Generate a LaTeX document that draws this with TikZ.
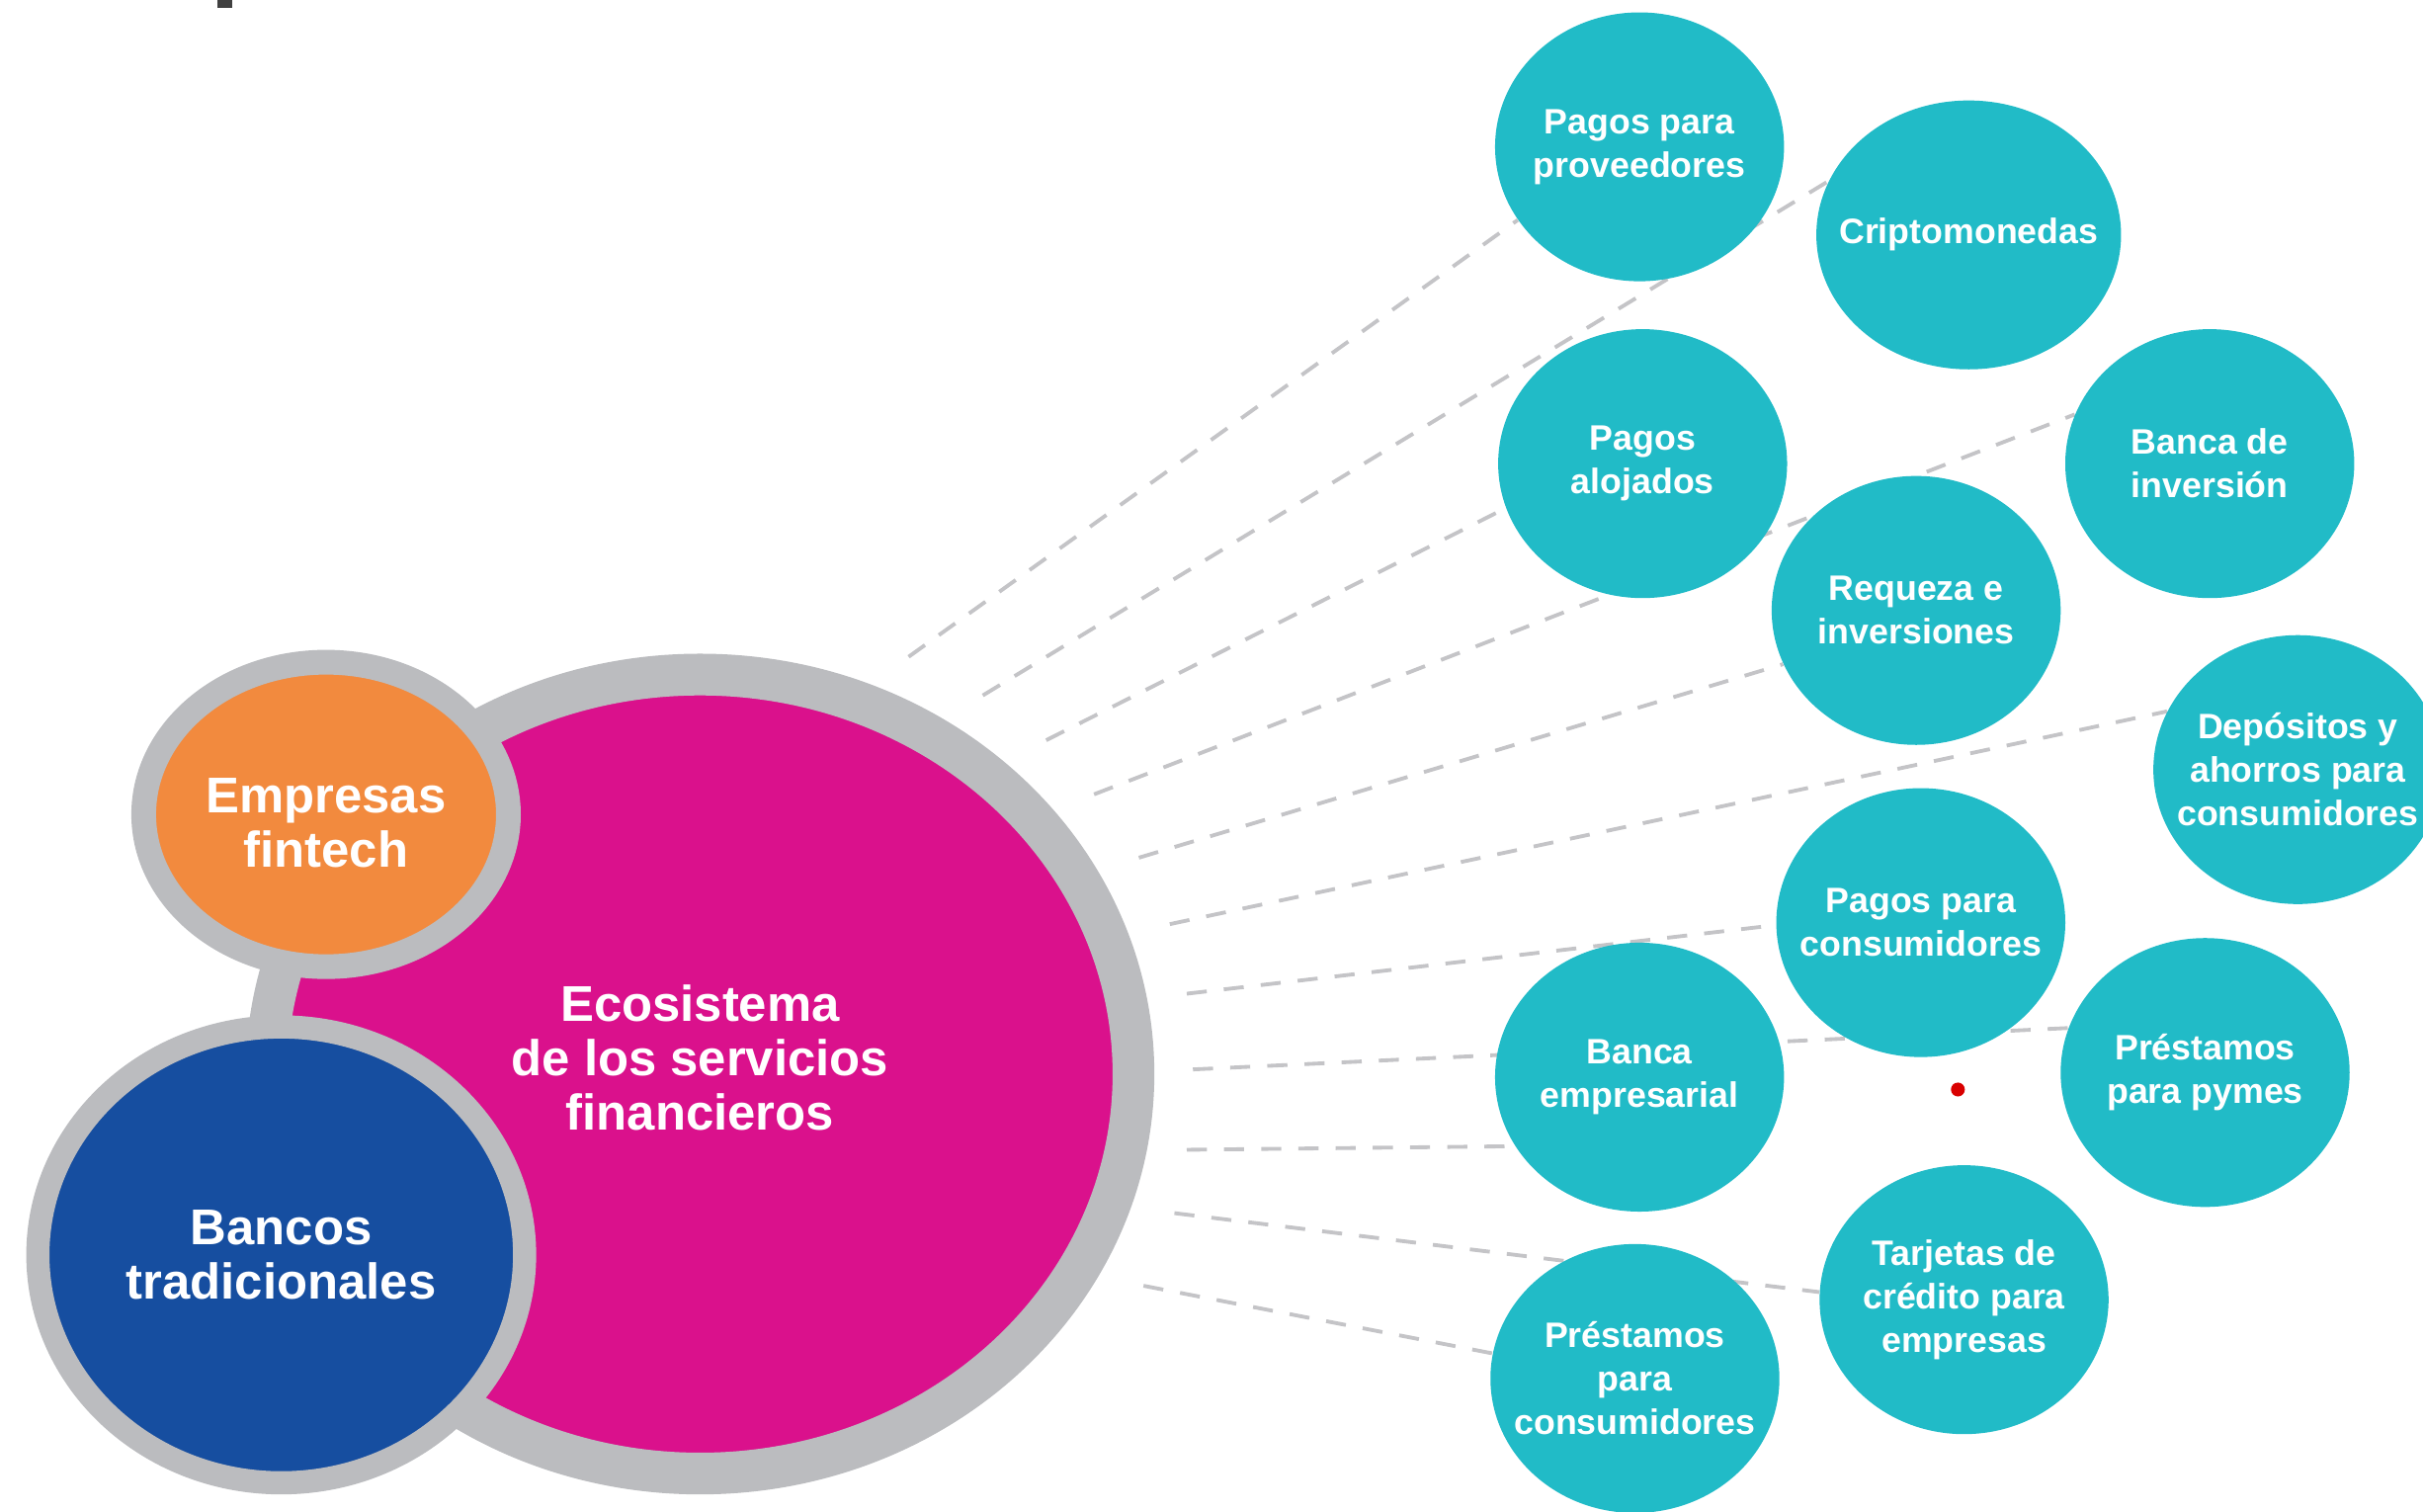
\documentclass[tikz,border=0pt]{standalone}
\usepackage{fontspec}
\setmainfont{Liberation Sans}
\usepackage{tikz}
\usetikzlibrary{shapes,positioning,backgrounds}
\definecolor{servicecyan}{RGB}{33,187,199}
\definecolor{ecomagenta}{RGB}{218,17,140}
\definecolor{fintechorange}{RGB}{242,138,62}
\definecolor{bankblue}{RGB}{22,78,160}
\definecolor{ringgray}{RGB}{187,188,191}
\definecolor{linkgray}{RGB}{196,196,199}
\tikzset{
    raw bubble/.style={ellipse, inner sep=0pt, align=center, text=white},
    big bubble/.style={raw bubble, draw=ringgray, font=\bfseries\fontsize{18.5}{20}\selectfont},
    service/.style={raw bubble, inner sep=-8pt, fill=servicecyan, minimum width=37.4mm, minimum height=34.8mm, font=\bfseries\fontsize{13}{16}\selectfont},
    link/.style={draw=linkgray, line width=1.4pt, dash pattern=on 7.4pt off 6.3pt}
}
\begin{document}
\begin{tikzpicture}[x=0.2mm, y=-0.2mm]
	\useasboundingbox (0,0) rectangle (1568,978);
	% the three big bubbles
	\node[big bubble, fill=ecomagenta, line width=5.4mm, minimum width=112.2mm, minimum height=103.4mm] (eco) at (453,695) {Ecosistema\\de los servicios\\financieros\\[-8pt]\mbox{}};
	\node[big bubble, fill=fintechorange, line width=3.2mm, minimum width=47.2mm, minimum height=39.4mm] (fintech) at (211,527) {\rule{0pt}{19pt}Empresas\\fintech};
	\node[big bubble, fill=bankblue, line width=3mm, minimum width=63mm, minimum height=59mm] (banks) at (182,812) {Bancos\\tradicionales};
	% services
	\begin{scope}[every node/.style={service}]
		\node (prov) at (1061,95) {Pagos para\\proveedores};
		\node (cripto) at (1274,152) {Criptomonedas};
		\node (alojados) at (1063,300) {Pagos\\alojados};
		\node (invbank) at (1430,300) {Banca de\\inversión};
		\node (riqueza) at (1240,395) {Requeza e\\inversiones};
		\node (deposit) at (1487,498) {Depósitos y\\ahorros para\\consumidores};
		\node (paycons) at (1243,597) {Pagos para\\consumidores};
		\node (bizbank) at (1061,697) {Banca\\empresarial};
		\node (pymes) at (1427,694) {Préstamos\\para pymes};
		\node (cards) at (1271,841) {Tarjetas de\\crédito para\\empresas};
		\node (loancons) at (1058,892) {Préstamos\\para\\consumidores};
	\end{scope}
	\fill[red!85!black] (1267,705) circle[radius=0.9mm];
	\fill[black!75] (141,0) rectangle (150,5);
	% dashed fan
	\coordinate (fan1) at (588,425);
	\coordinate (fan2) at (636,450);
	\coordinate (fan3) at (677,479);
	\coordinate (fan4) at (708,514);
	\coordinate (fan5) at (737,555);
	\coordinate (fan6) at (757,598);
	\coordinate (fan7) at (768,643);
	\coordinate (fan8) at (772,692);
	\coordinate (fan9) at (768,744);
	\coordinate (fan10) at (760,785);
	\coordinate (fan11) at (740,832);
	\begin{pgfonlayer}{background}
		\draw[link] (fan1) -- (prov.211);
		\draw[link] (fan2) -- (cripto.159);
		\draw[link] (fan3) -- (alojados.198);
		\draw[link] (fan4) -- (invbank.160);
		\draw[link] (fan5) -- (riqueza.202);
		\draw[link] (fan6) -- (deposit.156);
		\draw[link] (fan7) -- (paycons.181);
		\draw[link] (fan8) -- (pymes.162);
		\draw[link] (fan9) -- (bizbank.209);
		\draw[link] (fan10) -- (cards.177);
		\draw[link] (fan11) -- (loancons.170);
	\end{pgfonlayer}
\end{tikzpicture}
\end{document}
